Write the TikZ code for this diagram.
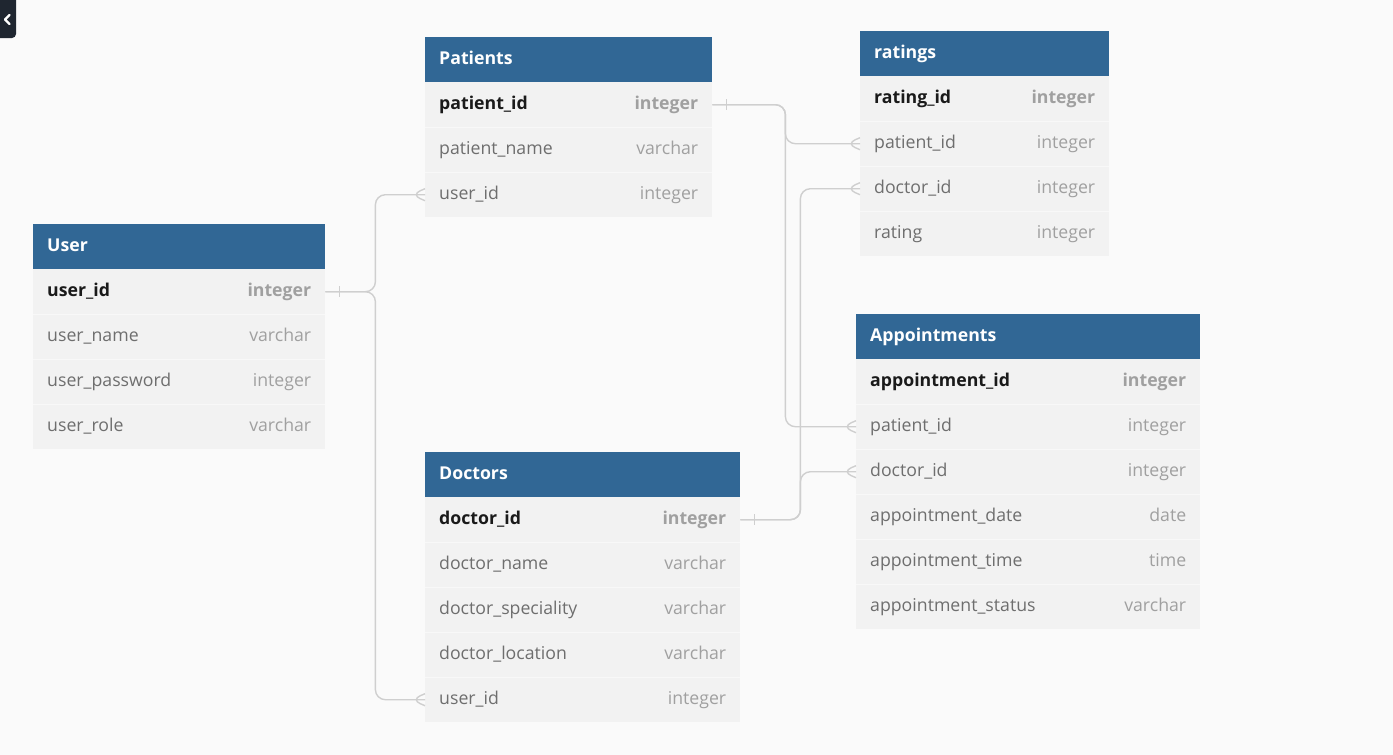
\documentclass[tikz,border=0pt]{standalone}
\usepackage{fontspec}
\setmainfont{Open Sans}
\definecolor{bgcol}{HTML}{FAFAFA}
\definecolor{hdrblue}{HTML}{316795}
\definecolor{rowgray}{HTML}{F2F2F2}
\definecolor{sepgray}{HTML}{F8F8F8}
\definecolor{namegray}{HTML}{6E6E6E}
\definecolor{typegray}{HTML}{A0A0A0}
\definecolor{pkblack}{HTML}{1A1A1A}
\definecolor{relgray}{HTML}{CFCFCF}
\definecolor{navcol}{HTML}{1F2630}
\newcommand{\erfont}{\fontsize{17.7}{20}\selectfont}
\tikzset{
    hdr/.style = {fill = hdrblue, text = white, font = \erfont\bfseries, anchor = north west,
        minimum height = 45pt, inner xsep = 14pt, inner ysep = 0pt, align = left,
        text height = 9pt, text depth = 0pt},
    fieldrow/.style = {fill = rowgray, anchor = north west, minimum height = 45pt, inner sep = 0pt},
    fname/.style = {anchor = base west, text = namegray, font = \erfont, inner sep = 0pt},
    ftype/.style = {anchor = base east, text = typegray, font = \erfont, inner sep = 0pt},
    pkname/.style = {fname, text = pkblack, font = \erfont\bfseries},
    pktype/.style = {ftype, font = \erfont\bfseries},
    rel/.style = {draw = relgray, line width = 1.4pt, rounded corners = 10pt},
    sep/.style = {draw = sepgray, line width = 0.8pt}
}
\begin{document}
\begin{tikzpicture}[x = 1pt, y = -1pt]
    \fill[bgcol] (0,0) rectangle (1393,755);
    \useasboundingbox (0,0) rectangle (1393,755);
    % side toggle
    \begin{scope}
        \clip (0,0) rectangle (20,40);
        \fill[navcol, rounded corners = 4pt] (-8,-8) rectangle (16,38);
    \end{scope}
    \draw[white, line width = 2.4pt, line cap = round, line join = round] (9.5,15) -- (5,19.5) -- (9.5,24);

    % User
    \node[hdr, text width = 264pt] (user) at (33,224) {User};
    \node[fieldrow, minimum width = 292pt] (user-1) at (33,269) {};
    \node[pkname] at ([xshift = 14pt, yshift = -4.5pt]user-1.west) {user\_id};
    \node[pktype] at ([xshift = -14pt, yshift = -4.5pt]user-1.east) {integer};
    \foreach \f/\t [count = \i from 2] in {user\_name/varchar, user\_password/integer, user\_role/varchar} {
        \node[fieldrow, minimum width = 292pt] (user-\i) at (33,{224+45*\i}) {};
        \draw[sep] (user-\i.north west) -- (user-\i.north east);
        \node[fname] at ([xshift = 14pt, yshift = -4.5pt]user-\i.west) {\f};
        \node[ftype] at ([xshift = -14pt, yshift = -4.5pt]user-\i.east) {\t};
    }

    % Patients
    \node[hdr, text width = 259pt] (pat) at (425,37) {Patients};
    \node[fieldrow, minimum width = 287pt] (pat-1) at (425,82) {};
    \node[pkname] at ([xshift = 14pt, yshift = -4.5pt]pat-1.west) {patient\_id};
    \node[pktype] at ([xshift = -14pt, yshift = -4.5pt]pat-1.east) {integer};
    \foreach \f/\t [count = \i from 2] in {patient\_name/varchar, user\_id/integer} {
        \node[fieldrow, minimum width = 287pt] (pat-\i) at (425,{37+45*\i}) {};
        \draw[sep] (pat-\i.north west) -- (pat-\i.north east);
        \node[fname] at ([xshift = 14pt, yshift = -4.5pt]pat-\i.west) {\f};
        \node[ftype] at ([xshift = -14pt, yshift = -4.5pt]pat-\i.east) {\t};
    }

    % ratings
    \node[hdr, text width = 221pt] (rat) at (860,31) {ratings};
    \node[fieldrow, minimum width = 249pt] (rat-1) at (860,76) {};
    \node[pkname] at ([xshift = 14pt, yshift = -4.5pt]rat-1.west) {rating\_id};
    \node[pktype] at ([xshift = -14pt, yshift = -4.5pt]rat-1.east) {integer};
    \foreach \f/\t [count = \i from 2] in {patient\_id/integer, doctor\_id/integer, rating/integer} {
        \node[fieldrow, minimum width = 249pt] (rat-\i) at (860,{31+45*\i}) {};
        \draw[sep] (rat-\i.north west) -- (rat-\i.north east);
        \node[fname] at ([xshift = 14pt, yshift = -4.5pt]rat-\i.west) {\f};
        \node[ftype] at ([xshift = -14pt, yshift = -4.5pt]rat-\i.east) {\t};
    }

    % Appointments
    \node[hdr, text width = 316pt] (app) at (856,314) {Appointments};
    \node[fieldrow, minimum width = 344pt] (app-1) at (856,359) {};
    \node[pkname] at ([xshift = 14pt, yshift = -4.5pt]app-1.west) {appointment\_id};
    \node[pktype] at ([xshift = -14pt, yshift = -4.5pt]app-1.east) {integer};
    \foreach \f/\t [count = \i from 2] in {patient\_id/integer, doctor\_id/integer, appointment\_date/date,
            appointment\_time/time, appointment\_status/varchar} {
        \node[fieldrow, minimum width = 344pt] (app-\i) at (856,{314+45*\i}) {};
        \draw[sep] (app-\i.north west) -- (app-\i.north east);
        \node[fname] at ([xshift = 14pt, yshift = -4.5pt]app-\i.west) {\f};
        \node[ftype] at ([xshift = -14pt, yshift = -4.5pt]app-\i.east) {\t};
    }

    % Doctors
    \node[hdr, text width = 287pt] (doc) at (425,452) {Doctors};
    \node[fieldrow, minimum width = 315pt] (doc-1) at (425,497) {};
    \node[pkname] at ([xshift = 14pt, yshift = -4.5pt]doc-1.west) {doctor\_id};
    \node[pktype] at ([xshift = -14pt, yshift = -4.5pt]doc-1.east) {integer};
    \foreach \f/\t [count = \i from 2] in {doctor\_name/varchar, doctor\_speciality/varchar,
            doctor\_location/varchar, user\_id/integer} {
        \node[fieldrow, minimum width = 315pt] (doc-\i) at (425,{452+45*\i}) {};
        \draw[sep] (doc-\i.north west) -- (doc-\i.north east);
        \node[fname] at ([xshift = 14pt, yshift = -4.5pt]doc-\i.west) {\f};
        \node[ftype] at ([xshift = -14pt, yshift = -4.5pt]doc-\i.east) {\t};
    }

    % relations
    \draw[rel] (user-1.east) -- ([xshift = 50pt]user-1.east) |- (pat-3.west);
    \draw[rel] (user-1.east) -- ([xshift = 50pt]user-1.east) |- (doc-5.west);
    \draw[rel] (pat-1.east) -- ([xshift = 73pt]pat-1.east) |- (rat-2.west);
    \draw[rel] (pat-1.east) -- ([xshift = 73pt]pat-1.east) |- (app-2.west);
    \draw[rel] (doc-1.east) -- ([xshift = 60pt]doc-1.east) |- (app-3.west);
    \draw[rel] (doc-1.east) -- ([xshift = 60pt]doc-1.east) |- (rat-3.west);

    % one ends
    \draw[rel] ([xshift = 14pt, yshift = 5.5pt]user-1.east) -- ([xshift = 14pt, yshift = -5.5pt]user-1.east);
    \draw[rel] ([xshift = 14pt, yshift = 5.5pt]pat-1.east) -- ([xshift = 14pt, yshift = -5.5pt]pat-1.east);
    \draw[rel] ([xshift = 14pt, yshift = 5.5pt]doc-1.east) -- ([xshift = 14pt, yshift = -5.5pt]doc-1.east);

    % many ends
    \draw[rel] ([yshift = 6pt]pat-3.west) -- ([xshift = -14pt]pat-3.west) -- ([yshift = -6pt]pat-3.west);
    \draw[rel] ([yshift = 6pt]doc-5.west) -- ([xshift = -14pt]doc-5.west) -- ([yshift = -6pt]doc-5.west);
    \draw[rel] ([yshift = 6pt]rat-2.west) -- ([xshift = -14pt]rat-2.west) -- ([yshift = -6pt]rat-2.west);
    \draw[rel] ([yshift = 6pt]rat-3.west) -- ([xshift = -14pt]rat-3.west) -- ([yshift = -6pt]rat-3.west);
    \draw[rel] ([yshift = 6pt]app-2.west) -- ([xshift = -14pt]app-2.west) -- ([yshift = -6pt]app-2.west);
    \draw[rel] ([yshift = 6pt]app-3.west) -- ([xshift = -14pt]app-3.west) -- ([yshift = -6pt]app-3.west);
\end{tikzpicture}
\end{document}
